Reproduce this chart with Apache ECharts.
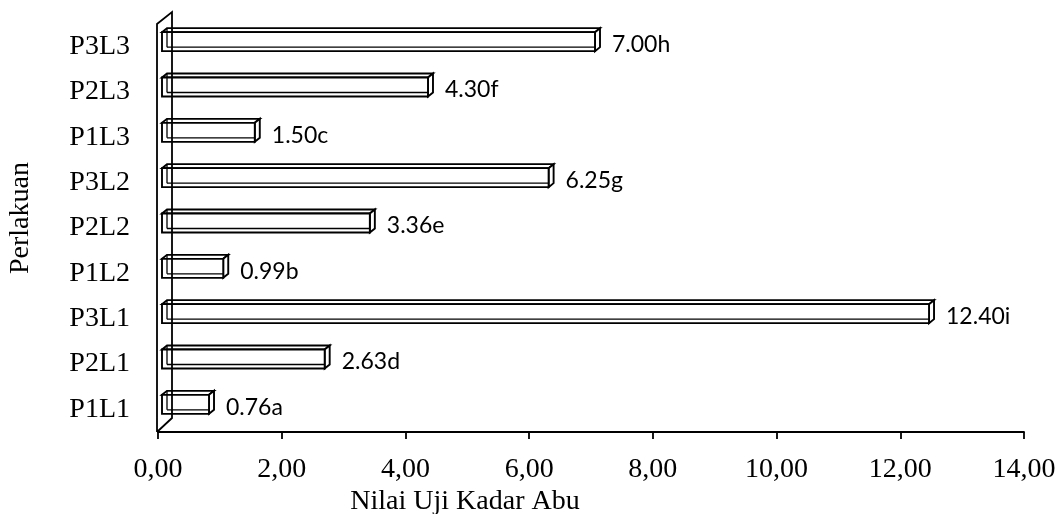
<!DOCTYPE html>
<html>
<head>
<meta charset="utf-8">
<script src="https://cdn.jsdelivr.net/npm/echarts@6/dist/echarts.min.js"></script>
<style>html,body{margin:0;padding:0;background:#fff}#c{width:1064px;height:514px}</style>
</head>
<body>
<div id="c"></div>
<script>
const categories = ['P1L1','P2L1','P3L1','P1L2','P2L2','P3L2','P1L3','P2L3','P3L3'];
const values = [0.76, 2.63, 12.40, 0.99, 3.36, 6.25, 1.50, 4.30, 7.00];
const notations = ['a','d','i','b','e','g','c','f','h'];
const xTicks = [0, 2, 4, 6, 8, 10, 12, 14];

const chart = echarts.init(document.getElementById('c'), null, {renderer: 'canvas'});
const serif = '"Liberation Serif", "Times New Roman", serif';
const DX = 5, DY = -4, H = 19, SHIFT = 4, RISE = 5;

function renderBar(params, api) {
  const idx = api.value(0);
  const val = api.value(1);
  const p0 = api.coord([0, idx]);
  const p1 = api.coord([val, idx]);
  const x0 = p0[0] + SHIFT, x1 = p1[0] + SHIFT, yc = p0[1] - RISE;
  const yt = yc - H / 2, yb = yc + H / 2;
  const st = {fill: '#fff', stroke: '#000', lineWidth: 1.9};
  return {
    type: 'group',
    children: [
      {type: 'polygon', shape: {points: [[x0, yt], [x0 + DX, yt + DY], [x1 + DX, yt + DY], [x1, yt]]}, style: st},
      {type: 'polygon', shape: {points: [[x1, yt], [x1 + DX, yt + DY], [x1 + DX, yb + DY], [x1, yb]]}, style: st},
      {type: 'rect', shape: {x: x0, y: yt, width: x1 - x0, height: H}, style: st},
      {type: 'line', shape: {x1: x0 + DX, y1: yt + DY, x2: x0 + DX, y2: yb + DY}, style: {stroke: '#000', lineWidth: 1.3}},
      {type: 'line', shape: {x1: x0 + DX, y1: yb + DY, x2: x1, y2: yb + DY}, style: {stroke: '#000', lineWidth: 1.3}},
      {type: 'text', x: x1 + DX + 12, y: yc + 3,
        style: {text: val.toFixed(2) + notations[params.dataIndex], fill: '#000',
          font: '23px Lato, "Open Sans", sans-serif', textAlign: 'left', textVerticalAlign: 'middle'}}
    ]
  };
}

chart.setOption({
  animation: false,
  backgroundColor: '#fff',
  grid: {left: 158, right: 40, top: 24, bottom: 82},
  xAxis: {type: 'value', min: xTicks[0], max: xTicks[xTicks.length - 1], interval: 2,
    axisLine: {show: true, lineStyle: {color: '#000', width: 1.8}},
    axisTick: {show: true, length: 7, lineStyle: {color: '#000', width: 1.8}},
    splitLine: {show: false},
    axisLabel: {color: '#000', fontFamily: serif, fontSize: 28, margin: 24,
      formatter: v => v.toFixed(2).replace('.', ',')}},
  yAxis: {type: 'category', data: categories,
    axisLine: {show: false}, axisTick: {show: false}, splitLine: {show: false},
    axisLabel: {color: '#000', fontFamily: serif, fontSize: 28, margin: 28}},
  graphic: [
    {type: 'polyline', z: 100, shape: {points: [[157, 432], [157, 24], [172, 12], [172, 418], [157, 432]]},
      style: {stroke: '#000', lineWidth: 1.8, fill: null}},
    {type: 'text', x: 465, y: 502, style: {text: 'Nilai Uji Kadar Abu', font: '28px ' + serif, fill: '#000', textAlign: 'center', textVerticalAlign: 'middle'}},
    {type: 'text', x: 21, y: 218, rotation: Math.PI / 2, originX: 0, originY: 0,
      style: {text: 'Perlakuan', font: '28px ' + serif, fill: '#000', textAlign: 'center', textVerticalAlign: 'middle'}}
  ],
  series: [{
    type: 'custom', z: 5,
    renderItem: renderBar,
    encode: {x: 1, y: 0},
    data: values.map((v, i) => [i, v])
  }]
});
</script>
</body>
</html>
